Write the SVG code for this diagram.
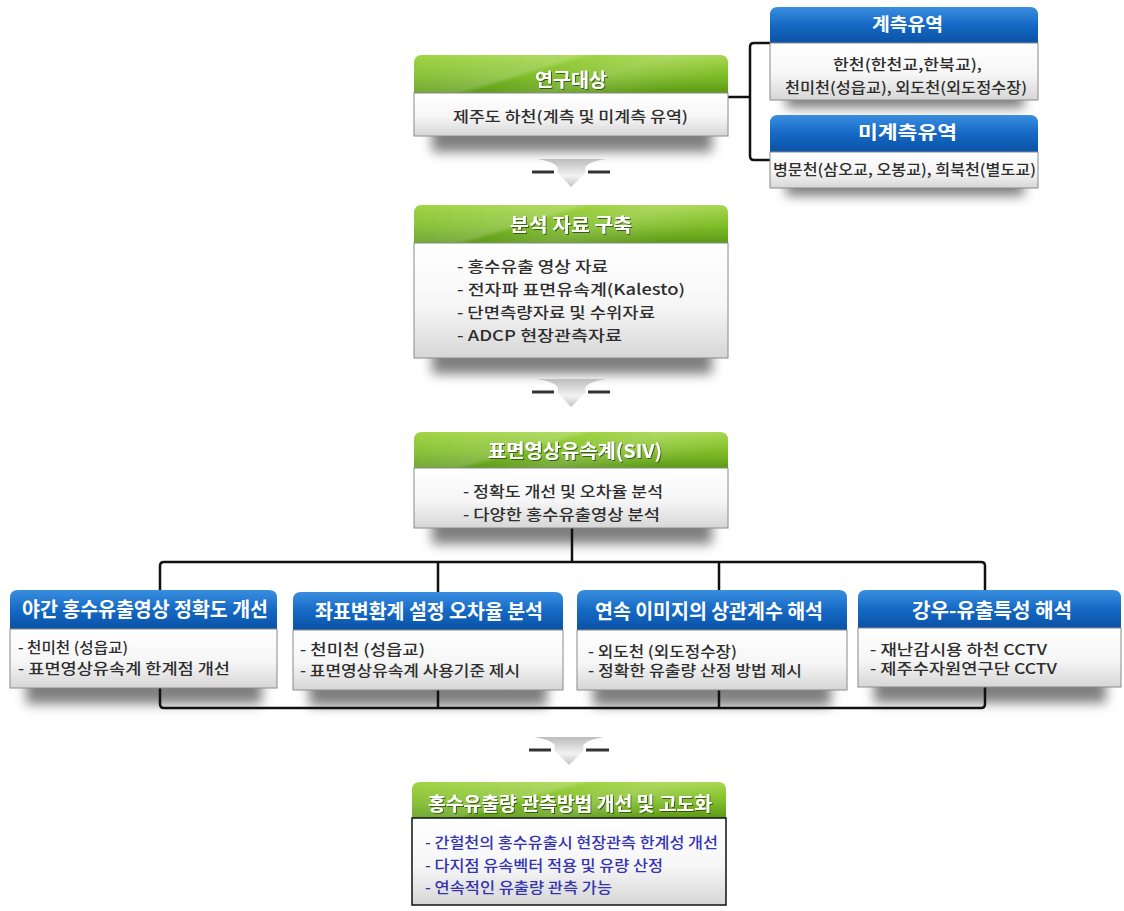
<svg xmlns="http://www.w3.org/2000/svg" width="1124" height="911" viewBox="0 0 1124 911">
  <defs>
    <linearGradient id="gHead" x1="0" y1="0" x2="0" y2="1">
      <stop offset="0" stop-color="#a2d444"/>
      <stop offset="0.55" stop-color="#80bd2a"/>
      <stop offset="1" stop-color="#5c9a16"/>
    </linearGradient>
    <linearGradient id="gShine" x1="0" y1="0" x2="1" y2="0.4">
      <stop offset="0" stop-color="#ffffff" stop-opacity="0"/>
      <stop offset="0.45" stop-color="#ffffff" stop-opacity="0.18"/>
      <stop offset="0.5" stop-color="#ffffff" stop-opacity="0"/>
      <stop offset="0.7" stop-color="#ffffff" stop-opacity="0.15"/>
      <stop offset="1" stop-color="#ffffff" stop-opacity="0"/>
    </linearGradient>
    <linearGradient id="bHead" x1="0" y1="0" x2="0" y2="1">
      <stop offset="0" stop-color="#3a8ee0"/>
      <stop offset="0.5" stop-color="#1569c4"/>
      <stop offset="1" stop-color="#0a52a6"/>
    </linearGradient>
    <linearGradient id="body" x1="0" y1="0" x2="0" y2="1">
      <stop offset="0" stop-color="#ffffff"/>
      <stop offset="0.55" stop-color="#f6f6f6"/>
      <stop offset="1" stop-color="#d6d6d6"/>
    </linearGradient>
    <linearGradient id="arrowFill" x1="0" y1="0" x2="0" y2="1">
      <stop offset="0" stop-color="#bdbdbd"/>
      <stop offset="0.6" stop-color="#f2f2f2"/>
      <stop offset="1" stop-color="#c4c4c4"/>
    </linearGradient>
    <filter id="soft" x="-20%" y="-50%" width="140%" height="200%">
      <feGaussianBlur stdDeviation="6"/>
    </filter>
    <filter id="tshadow" x="-10%" y="-30%" width="120%" height="160%">
      <feDropShadow dx="1" dy="1" stdDeviation="0.6" flood-color="#1e3300" flood-opacity="0.7"/>
    </filter>
  </defs>
  <style>
    text { font-family: "Noto Sans CJK KR", "Noto Sans", sans-serif; }
    .title { fill: #ffffff; font-weight: bold; text-anchor: middle; }
    .btxt { fill: #2e2e2e; font-size: 15px; font-weight: 500; }
    .ctr { text-anchor: middle; }
    .ftxt { fill: #3434b0; font-size: 15px; font-weight: 500; }
    .conn { fill: none; stroke: #111111; stroke-width: 2.5; stroke-linejoin: round; }
    .bodybox { fill: url(#body); stroke: #8a8a8a; stroke-width: 1; }
    .shadow { fill: #555555; opacity: 0.75; filter: url(#soft); }
    .dash { stroke: #333333; stroke-width: 3; }
  </style>

  <rect width="1124" height="911" fill="#ffffff"/>

  <!-- drop shadows under the boxes -->
  <g id="shadows">
    <rect class="shadow" x="432" y="120" width="280" height="32"/>
    <rect class="shadow" x="786" y="86" width="238" height="22"/>
    <rect class="shadow" x="786" y="174" width="238" height="22"/>
    <rect class="shadow" x="432" y="342" width="280" height="32"/>
    <rect class="shadow" x="432" y="512" width="280" height="32"/>
    <rect class="shadow" x="26" y="672" width="236" height="32"/>
    <rect class="shadow" x="309" y="674" width="238" height="32"/>
    <rect class="shadow" x="593" y="674" width="238" height="32"/>
    <rect class="shadow" x="874" y="671" width="232" height="32"/>
  </g>

  <!-- connectors -->
  <g id="connectors">
    <path class="conn" d="M728,97 H750 M770,43 H754 Q750,43 750,47 V156 Q750,160 754,160 H770"/>
    <path class="conn" d="M572,528 V562"/>
    <path class="conn" d="M160,590 V566 Q160,562 164,562 H981 Q985,562 985,566 V590"/>
    <path class="conn" d="M438,562 V592 M719,562 V590"/>
    <path class="conn" d="M160,688 V704 Q160,708 164,708 H981 Q985,708 985,704 V687"/>
    <path class="conn" d="M438,690 V708 M719,690 V708"/>
  </g>

  <!-- flow arrows -->
  <g id="arrow1">
    <path d="M537,159 Q562,163 557,172 L571,187 L586,172 Q581,163 606,159 Z" fill="url(#arrowFill)"/>
    <line class="dash" x1="532" y1="172" x2="554" y2="172"/>
    <line class="dash" x1="588" y1="172" x2="610" y2="172"/>
  </g>
  <g id="arrow2">
    <path d="M537,379 Q562,383 557,392 L571,407 L586,392 Q581,383 606,379 Z" fill="url(#arrowFill)"/>
    <line class="dash" x1="532" y1="392" x2="554" y2="392"/>
    <line class="dash" x1="588" y1="392" x2="610" y2="392"/>
  </g>
  <g id="arrow3">
    <path d="M534,737 Q559,741 554,750 L569,765 L584,750 Q579,741 604,737 Z" fill="url(#arrowFill)"/>
    <line class="dash" x1="529" y1="750" x2="551" y2="750"/>
    <line class="dash" x1="586" y1="750" x2="609" y2="750"/>
  </g>

  <!-- study target -->
  <g id="study-target">
    <path d="M414,93 V63 Q414,55 422,55 H720 Q728,55 728,63 V93 Z" fill="url(#gHead)"/>
    <path d="M414,93 V63 Q414,55 422,55 H720 Q728,55 728,63 V93 Z" fill="url(#gShine)"/>
    <rect class="bodybox" x="414" y="93" width="314" height="43"/>
    <text class="title" x="571" y="87" font-size="19" textLength="72" lengthAdjust="spacingAndGlyphs" filter="url(#tshadow)">연구대상</text>
    <text class="btxt ctr" x="570.5" y="122" textLength="235" lengthAdjust="spacingAndGlyphs">제주도 하천(계측 및 미계측 유역)</text>
  </g>

  <!-- gauged basins -->
  <g id="gauged">
    <path d="M770,43 V15 Q770,7 778,7 H1030 Q1038,7 1038,15 V43 Z" fill="url(#bHead)"/>
    <rect class="bodybox" x="770" y="43" width="268" height="57"/>
    <text class="title" x="907.5" y="31" font-size="18" textLength="71" lengthAdjust="spacingAndGlyphs">계측유역</text>
    <text class="btxt ctr" x="907.5" y="70" textLength="149" lengthAdjust="spacingAndGlyphs">한천(한천교,한북교),</text>
    <text class="btxt ctr" x="906" y="93" textLength="242" lengthAdjust="spacingAndGlyphs">천미천(성읍교), 외도천(외도정수장)</text>
  </g>

  <!-- ungauged basins -->
  <g id="ungauged">
    <path d="M770,152 V123 Q770,115 778,115 H1030 Q1038,115 1038,123 V152 Z" fill="url(#bHead)"/>
    <rect class="bodybox" x="770" y="152" width="268" height="36"/>
    <text class="title" x="907.5" y="139" font-size="18" textLength="99" lengthAdjust="spacingAndGlyphs">미계측유역</text>
    <text class="btxt ctr" x="904.5" y="175" textLength="263" lengthAdjust="spacingAndGlyphs">병문천(삼오교, 오봉교), 희북천(별도교)</text>
  </g>

  <!-- analysis data -->
  <g id="analysis-data">
    <path d="M414,243 V213 Q414,205 422,205 H720 Q728,205 728,213 V243 Z" fill="url(#gHead)"/>
    <path d="M414,243 V213 Q414,205 422,205 H720 Q728,205 728,213 V243 Z" fill="url(#gShine)"/>
    <rect class="bodybox" x="414" y="243" width="314" height="115"/>
    <text class="title" x="571" y="232" font-size="19" textLength="122" lengthAdjust="spacingAndGlyphs" filter="url(#tshadow)">분석 자료 구축</text>
    <text class="btxt" x="457" y="272" textLength="151" lengthAdjust="spacingAndGlyphs">- 홍수유출 영상 자료</text>
    <text class="btxt" x="457" y="295" textLength="228" lengthAdjust="spacingAndGlyphs">- 전자파 표면유속계(Kalesto)</text>
    <text class="btxt" x="457" y="318" textLength="198" lengthAdjust="spacingAndGlyphs">- 단면측량자료 및 수위자료</text>
    <text class="btxt" x="457" y="341" textLength="165" lengthAdjust="spacingAndGlyphs">- ADCP 현장관측자료</text>
  </g>

  <!-- SIV -->
  <g id="siv">
    <path d="M414,468 V440 Q414,432 422,432 H720 Q728,432 728,440 V468 Z" fill="url(#gHead)"/>
    <path d="M414,468 V440 Q414,432 422,432 H720 Q728,432 728,440 V468 Z" fill="url(#gShine)"/>
    <rect class="bodybox" x="414" y="468" width="314" height="60"/>
    <text class="title" x="575" y="458" font-size="19" textLength="174" lengthAdjust="spacingAndGlyphs" filter="url(#tshadow)">표면영상유속계(SIV)</text>
    <text class="btxt" x="463" y="497" textLength="200" lengthAdjust="spacingAndGlyphs">- 정확도 개선 및 오차율 분석</text>
    <text class="btxt" x="463" y="520" textLength="197" lengthAdjust="spacingAndGlyphs">- 다양한 홍수유출영상  분석</text>
  </g>

  <!-- night-time accuracy -->
  <g id="night">
    <path d="M10,629 V598 Q10,590 18,590 H269 Q277,590 277,598 V629 Z" fill="url(#bHead)"/>
    <rect class="bodybox" x="10" y="629" width="267" height="59"/>
    <text class="title" x="145" y="617" font-size="20" textLength="246" lengthAdjust="spacingAndGlyphs">야간 홍수유출영상 정확도 개선</text>
    <text class="btxt" x="18" y="653" textLength="110" lengthAdjust="spacingAndGlyphs">- 천미천 (성읍교)</text>
    <text class="btxt" x="18" y="674" textLength="212" lengthAdjust="spacingAndGlyphs">- 표면영상유속계 한계점 개선</text>
  </g>

  <!-- coordinate transform -->
  <g id="coord">
    <path d="M293,630 V600 Q293,592 301,592 H555 Q563,592 563,600 V630 Z" fill="url(#bHead)"/>
    <rect class="bodybox" x="293" y="630" width="270" height="60"/>
    <text class="title" x="429" y="619" font-size="20" textLength="228" lengthAdjust="spacingAndGlyphs">좌표변환계 설정 오차율 분석</text>
    <text class="btxt" x="300" y="655" textLength="125" lengthAdjust="spacingAndGlyphs">-  천미천 (성읍교)</text>
    <text class="btxt" x="300" y="676" textLength="220" lengthAdjust="spacingAndGlyphs">-  표면영상유속계 사용기준 제시</text>
  </g>

  <!-- image correlation -->
  <g id="correlation">
    <path d="M577,630 V598 Q577,590 585,590 H839 Q847,590 847,598 V630 Z" fill="url(#bHead)"/>
    <rect class="bodybox" x="577" y="630" width="270" height="60"/>
    <text class="title" x="709" y="619" font-size="20" textLength="228" lengthAdjust="spacingAndGlyphs">연속 이미지의 상관계수 해석</text>
    <text class="btxt" x="588" y="657" textLength="149" lengthAdjust="spacingAndGlyphs">- 외도천 (외도정수장)</text>
    <text class="btxt" x="588" y="676" textLength="214" lengthAdjust="spacingAndGlyphs">- 정확한 유출량 산정 방법 제시</text>
  </g>

  <!-- rainfall-runoff -->
  <g id="rainfall">
    <path d="M858,628 V598 Q858,590 866,590 H1113 Q1121,590 1121,598 V628 Z" fill="url(#bHead)"/>
    <rect class="bodybox" x="858" y="628" width="263" height="59"/>
    <text class="title" x="992" y="618" font-size="20" textLength="160" lengthAdjust="spacingAndGlyphs">강우-유출특성 해석</text>
    <text class="btxt" x="870" y="655" textLength="177" lengthAdjust="spacingAndGlyphs">- 재난감시용 하천 CCTV</text>
    <text class="btxt" x="870" y="674" textLength="187" lengthAdjust="spacingAndGlyphs">- 제주수자원연구단 CCTV</text>
  </g>

  <!-- result -->
  <g id="result">
    <path d="M412,818 V790 Q412,782 420,782 H718 Q726,782 726,790 V818 Z" fill="url(#gHead)"/>
    <path d="M412,818 V790 Q412,782 420,782 H718 Q726,782 726,790 V818 Z" fill="url(#gShine)"/>
    <rect x="412" y="818" width="314" height="87" fill="url(#body)" stroke="#111111" stroke-width="1.5"/>
    <text class="title" x="570" y="811" font-size="19" textLength="284" lengthAdjust="spacingAndGlyphs" filter="url(#tshadow)">홍수유출량 관측방법 개선 및 고도화</text>
    <text class="ftxt" x="425" y="848" textLength="293" lengthAdjust="spacingAndGlyphs">- 간헐천의 홍수유출시 현장관측 한계성 개선</text>
    <text class="ftxt" x="425" y="871" textLength="238" lengthAdjust="spacingAndGlyphs">- 다지점 유속벡터 적용 및 유량 산정</text>
    <text class="ftxt" x="425" y="893" textLength="187" lengthAdjust="spacingAndGlyphs">- 연속적인 유출량 관측 가능</text>
  </g>
</svg>
